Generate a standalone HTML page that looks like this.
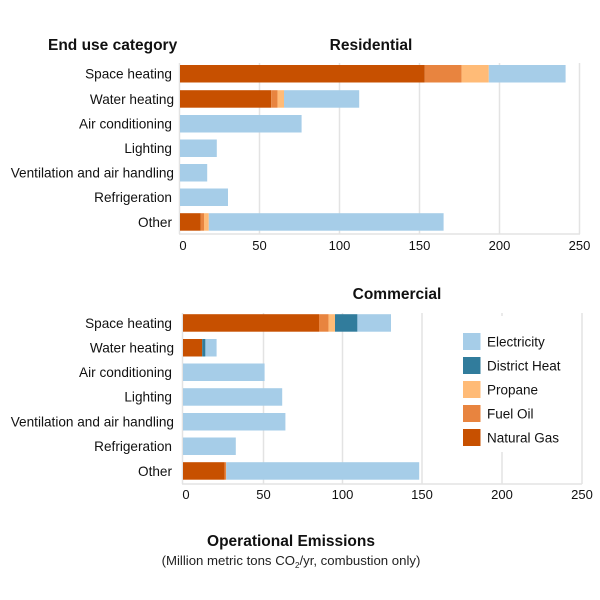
<!DOCTYPE html>
<html><head><meta charset="utf-8"><style>
html,body{margin:0;padding:0;background:#fff}
svg{display:block;font-family:"Liberation Sans",sans-serif}
</style></head><body>
<svg width="600" height="600" viewBox="0 0 600 600" xmlns="http://www.w3.org/2000/svg">
<g fill="#111">
<text x="48" y="50" font-weight="bold" font-size="15.5">End use category</text>
<text x="371" y="50" font-weight="bold" font-size="15.5" text-anchor="middle">Residential</text>
</g>
<g stroke="#e3e3e3" stroke-width="1.5">
<line x1="259.5" y1="63" x2="259.5" y2="234"/><line x1="339.5" y1="63" x2="339.5" y2="234"/>
<line x1="419.5" y1="63" x2="419.5" y2="234"/><line x1="499.5" y1="63" x2="499.5" y2="234"/>
<line x1="579.5" y1="63" x2="579.5" y2="234"/>
<line x1="179.5" y1="63" x2="179.5" y2="234"/>
<line x1="179" y1="234" x2="580" y2="234"/>
</g>
<g>
<rect x="180" y="65" width="244.8" height="17.5" fill="#c75000"/>
<rect x="424.8" y="65" width="36.8" height="17.5" fill="#e8843f"/>
<rect x="461.6" y="65" width="27.2" height="17.5" fill="#ffbb77"/>
<rect x="488.8" y="65" width="76.8" height="17.5" fill="#a6cde8"/>
<rect x="180" y="90.2" width="91.2" height="17.5" fill="#c75000"/>
<rect x="271.2" y="90.2" width="6.4" height="17.5" fill="#e8843f"/>
<rect x="277.6" y="90.2" width="6.4" height="17.5" fill="#ffbb77"/>
<rect x="284" y="90.2" width="75.2" height="17.5" fill="#a6cde8"/>
<rect x="180" y="115" width="121.6" height="17.5" fill="#a6cde8"/>
<rect x="180" y="139.5" width="36.8" height="17.5" fill="#a6cde8"/>
<rect x="180" y="164" width="27.2" height="17.5" fill="#a6cde8"/>
<rect x="180" y="188.5" width="48" height="17.5" fill="#a6cde8"/>
<rect x="180" y="213.2" width="20.8" height="17.5" fill="#c75000"/>
<rect x="200.8" y="213.2" width="3.2" height="17.5" fill="#e8843f"/>
<rect x="204" y="213.2" width="4.8" height="17.5" fill="#ffbb77"/>
<rect x="208.8" y="213.2" width="234.8" height="17.5" fill="#a6cde8"/>
</g>
<g font-size="13.6" fill="#111" text-anchor="end">
<text x="172" y="78.5">Space heating</text>
<text x="174" y="104">Water heating</text>
<text x="172" y="128.5">Air conditioning</text>
<text x="172" y="153">Lighting</text>
<text x="174" y="177.5">Ventilation and air handling</text>
<text x="172" y="202">Refrigeration</text>
<text x="172" y="227">Other</text>
</g>
<g font-size="13" fill="#111" text-anchor="middle">
<text x="183" y="250">0</text><text x="259.5" y="250">50</text><text x="339.5" y="250">100</text>
<text x="419.5" y="250">150</text><text x="499.5" y="250">200</text><text x="579.5" y="250">250</text>
</g>

<text x="397" y="299" font-weight="bold" font-size="15.5" text-anchor="middle" fill="#111">Commercial</text>
<g stroke="#e3e3e3" stroke-width="1.5">
<line x1="263.5" y1="313" x2="263.5" y2="484"/><line x1="342.5" y1="313" x2="342.5" y2="484"/>
<line x1="422" y1="313" x2="422" y2="484"/><line x1="502" y1="313" x2="502" y2="484"/>
<line x1="582" y1="313" x2="582" y2="484"/>
<line x1="182.5" y1="313" x2="182.5" y2="484"/>
<line x1="182" y1="484" x2="582" y2="484"/>
</g>
<g>
<rect x="183" y="314.2" width="136" height="17.5" fill="#c75000"/>
<rect x="319" y="314.2" width="9.6" height="17.5" fill="#e8843f"/>
<rect x="328.6" y="314.2" width="6.4" height="17.5" fill="#ffbb77"/>
<rect x="335" y="314.2" width="22.4" height="17.5" fill="#317c9c"/>
<rect x="357.4" y="314.2" width="33.6" height="17.5" fill="#a6cde8"/>
<rect x="183" y="339" width="19.2" height="17.5" fill="#c75000"/>
<rect x="202.2" y="339" width="3.2" height="17.5" fill="#317c9c"/>
<rect x="205.4" y="339" width="11.2" height="17.5" fill="#a6cde8"/>
<rect x="183" y="363.5" width="81.6" height="17.5" fill="#a6cde8"/>
<rect x="183" y="388.2" width="99.2" height="17.5" fill="#a6cde8"/>
<rect x="183" y="413" width="102.4" height="17.5" fill="#a6cde8"/>
<rect x="183" y="437.5" width="52.8" height="17.5" fill="#a6cde8"/>
<rect x="183" y="462.2" width="41.6" height="17.5" fill="#c75000"/>
<rect x="224.6" y="462.2" width="1.6" height="17.5" fill="#e8843f"/>
<rect x="226.2" y="462.2" width="193" height="17.5" fill="#a6cde8"/>
</g>
<g font-size="13.6" fill="#111" text-anchor="end">
<text x="172" y="328">Space heating</text>
<text x="174" y="352.5">Water heating</text>
<text x="172" y="377">Air conditioning</text>
<text x="172" y="401.5">Lighting</text>
<text x="174" y="426.5">Ventilation and air handling</text>
<text x="172" y="451">Refrigeration</text>
<text x="172" y="476">Other</text>
</g>
<g font-size="13" fill="#111" text-anchor="middle">
<text x="186" y="499">0</text><text x="263.5" y="499">50</text><text x="342.5" y="499">100</text>
<text x="422" y="499">150</text><text x="502" y="499">200</text><text x="582" y="499">250</text>
</g>
<rect x="452" y="316" width="124" height="136" fill="#fff"/>
<rect x="463" y="333" width="17.5" height="17" fill="#a6cde8"/>
<rect x="463" y="357" width="17.5" height="17" fill="#317c9c"/>
<rect x="463" y="381" width="17.5" height="17" fill="#ffbb77"/>
<rect x="463" y="405" width="17.5" height="17" fill="#e8843f"/>
<rect x="463" y="429" width="17.5" height="17" fill="#c75000"/>
<g font-size="13.5" fill="#111">
<text x="487" y="346.5">Electricity</text>
<text x="487" y="370.5">District Heat</text>
<text x="487" y="394.5">Propane</text>
<text x="487" y="418.5">Fuel Oil</text>
<text x="487" y="442.5">Natural Gas</text>
</g>
<text x="291" y="546" font-weight="bold" font-size="15.5" text-anchor="middle" fill="#111">Operational Emissions</text>
<text x="291" y="565" font-size="13.2" text-anchor="middle" fill="#222">(Million metric tons CO<tspan font-size="8" dy="3">2</tspan><tspan dy="-3">/yr, combustion only)</tspan></text>
</svg>
</body></html>
